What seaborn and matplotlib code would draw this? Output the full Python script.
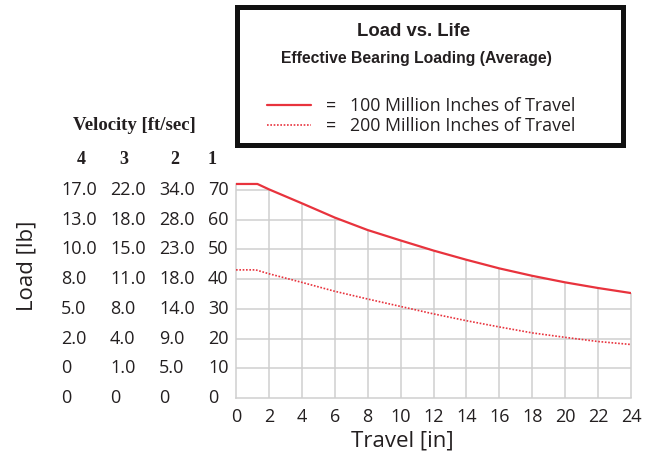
import numpy as np
import matplotlib
matplotlib.use('Agg')
import matplotlib.pyplot as plt
import seaborn as sns
from matplotlib.patches import Rectangle

sns.set_style('white')
plt.rcParams['font.family'] = ['Open Sans', 'DejaVu Sans']

# Data
travel_100 = [0, 1.3, 2, 4, 6, 8, 10, 12, 14, 16, 18, 20, 22, 24]
load_100 = [72, 72, 70.2, 65.5, 60.7, 56.5, 53.0, 49.6, 46.5, 43.6, 41.1, 38.9, 37.0, 35.3]
travel_200 = [0, 1.2, 2, 4, 6, 8, 10, 12, 14, 16, 18, 20, 22, 24]
load_200 = [43.1, 43.1, 41.8, 38.9, 35.9, 33.3, 30.8, 28.3, 26.0, 23.9, 21.9, 20.4, 19.0, 18.0]

x_ticks = list(range(0, 25, 2))
y_ticks = [0, 10, 20, 30, 40, 50, 60, 70]
vel_headers = ['4', '3', '2', '1']
vel_col4 = ['0', '0', '2.0', '5.0', '8.0', '10.0', '13.0', '17.0']
vel_col3 = ['0', '1.0', '4.0', '8.0', '11.0', '15.0', '18.0', '22.0']
vel_col2 = ['0', '5.0', '9.0', '14.0', '18.0', '23.0', '28.0', '34.0']
vel_col1 = ['0', '10', '20', '30', '40', '50', '60', '70']

red = '#e8333d'
grid_c = '#cfcfcf'
txt = '#231f20'

W, H = 655, 457
fig = plt.figure(figsize=(W / 100, H / 100), dpi=100)
ax = fig.add_axes([236 / W, 1 - 398 / H, 395 / W, 217 / H])
ax.set_xlim(0, 24)
ax.set_ylim(0, 73)

# grid clipped below the solid curve
for xv in x_ticks[1:]:
    top = np.interp(xv, travel_100, load_100)
    ax.vlines(xv, 0, top, color=grid_c, lw=1.1, zorder=1, clip_on=False)
for yv in y_ticks[1:]:
    if yv <= min(load_100):
        xe = 24
    else:
        xe = np.interp(yv, load_100[::-1], travel_100[::-1])
    ax.hlines(yv, 0, xe, color=grid_c, lw=1.1, zorder=1)

sns.lineplot(x=travel_100, y=load_100, ax=ax, color=red, lw=1.6, zorder=3,
             label='=   100 Million Inches of Travel')
sns.lineplot(x=travel_200, y=load_200, ax=ax, color=red, lw=1.2, zorder=3,
             linestyle=(0, (1, 1)), label='=   200 Million Inches of Travel')

for s in ['top', 'right']:
    ax.spines[s].set_visible(False)
ax.spines['left'].set_color(grid_c)
ax.spines['bottom'].set_color(grid_c)
ax.spines['left'].set_linewidth(1.1)
ax.spines['bottom'].set_linewidth(1.1)
ax.spines['left'].set_bounds(0, 72)

ax.set_xticks(x_ticks)
ax.set_xticklabels([str(v) for v in x_ticks], fontsize=13, color=txt)
ax.set_yticks(y_ticks)
ax.set_yticklabels([])
ax.tick_params(axis='both', length=3, width=1, color=grid_c, direction='out')
ax.tick_params(axis='x', pad=4)

# velocity columns as y labels
col_px = [61, 110, 159, 208]
cols = [vel_col4, vel_col3, vel_col2, vel_col1]
ytr = ax.get_yaxis_transform()
for px, col in zip(col_px, cols):
    xa = (px - 236) / 395
    for yv, lab in zip(y_ticks, col):
        ax.text(xa, yv, lab, transform=ytr, ha='left', va='center',
                fontsize=13, color=txt, clip_on=False)

head_px = [81, 124, 175, 212]
for px, h in zip(head_px, vel_headers):
    fig.text(px / W, 1 - 159 / H, h, ha='center', va='center', fontsize=13,
             fontweight='bold', family='Liberation Serif', color=txt)
fig.text(134 / W, 1 - 126 / H, 'Velocity [ft/sec]', ha='center', va='center',
         fontsize=13.5, fontweight='bold', family='Liberation Serif', color=txt)

fig.text(27 / W, 1 - 266 / H, 'Load [lb]', rotation=90, ha='center', va='center',
         fontsize=16, color=txt)
fig.text(402 / W, 1 - 441 / H, 'Travel [in]', ha='center', va='center',
         fontsize=16, color=txt)

# title box
fig.patches.append(Rectangle((237 / W, 1 - 145 / H), 386 / W, 138 / H,
                             transform=fig.transFigure, fill=False,
                             edgecolor='#111111', lw=3.6))
fig.text(414 / W, 1 - 32 / H, 'Load vs. Life', ha='center', va='center',
         fontsize=13.3, fontweight='bold', family='Liberation Sans', color=txt)
fig.text(416 / W, 1 - 59 / H, 'Effective Bearing Loading (Average)', ha='center',
         va='center', fontsize=11.3, fontweight='bold', family='Liberation Sans',
         color=txt)

ax.legend(loc='upper left', bbox_to_anchor=(258 / W, 1 - 88 / H),
          bbox_transform=fig.transFigure, frameon=False, fontsize=12.8,
          handlelength=2.5, handletextpad=0.8, labelspacing=0.12,
          borderpad=0, labelcolor=txt)

fig.savefig('out.png', dpi=100)
